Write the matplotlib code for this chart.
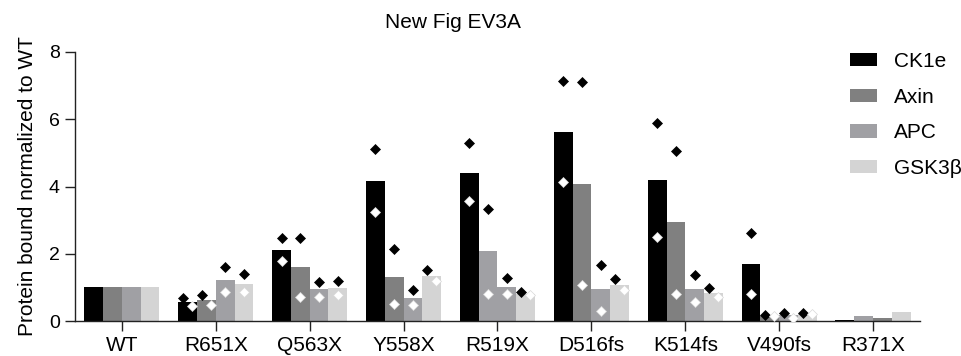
import numpy as np
import matplotlib
matplotlib.use("Agg")
import matplotlib.pyplot as plt

plt.rcParams['font.family'] = ['Liberation Sans', 'DejaVu Sans']

groups = ["WT", "R651X", "Q563X", "Y558X", "R519X", "D516fs", "K514fs", "V490fs", "R371X"]
series = ["CK1e", "Axin", "APC", "GSK3\u03b2"]

# bar heights (means)
ck1e_mean = [1.0, 0.56, 2.11, 4.16, 4.40, 5.62, 4.19, 1.69, 0.03]
axin_mean = [1.0, 0.62, 1.60, 1.31, 2.07, 4.07, 2.93, 0.16, 0.16]
apc_mean = [1.0, 1.23, 0.94, 0.69, 1.02, 0.96, 0.96, 0.17, 0.09]
gsk_mean = [1.0, 1.11, 0.98, 1.34, 0.80, 1.07, 0.83, 0.21, 0.26]

nan = np.nan
# replicate 1 (black diamonds) and replicate 2 (white diamonds)
ck1e_rep1 = [nan, 0.675, 2.46, 5.11, 5.28, 7.15, 5.89, 2.63, nan]
ck1e_rep2 = [nan, 0.45, 1.79, 3.24, 3.56, 4.13, 2.50, 0.79, nan]
axin_rep1 = [nan, 0.77, 2.47, 2.15, 3.33, 7.11, 5.07, 0.18, nan]
axin_rep2 = [nan, 0.48, 0.72, 0.51, 0.80, 1.06, 0.79, 0.15, nan]
apc_rep1 = [nan, 1.60, 1.15, 0.91, 1.27, 1.66, 1.37, 0.25, nan]
apc_rep2 = [nan, 0.87, 0.72, 0.49, 0.80, 0.31, 0.56, 0.10, nan]
gsk_rep1 = [nan, 1.39, 1.20, 1.52, 0.87, 1.25, 0.97, 0.25, nan]
gsk_rep2 = [nan, 0.85, 0.76, 1.20, 0.77, 0.93, 0.72, 0.20, nan]

means = [ck1e_mean, axin_mean, apc_mean, gsk_mean]
reps1 = [ck1e_rep1, axin_rep1, apc_rep1, gsk_rep1]
reps2 = [ck1e_rep2, axin_rep2, apc_rep2, gsk_rep2]

colors = ["#000000", "#808080", "#a0a0a4", "#d4d4d4"]
# the original figure colours a few bars differently
color_override = {(4, 1): "#a0a0a4", (8, 1): "#a0a0a4", (8, 2): "#808080"}

fig = plt.figure(figsize=(9.62, 3.56), dpi=100)
ax = fig.add_axes([75 / 962, 35 / 356, 845 / 962, 269 / 356])

x = np.arange(len(groups))
w = 0.2
for j, name in enumerate(series):
    xs = x + (j - 1.5) * w
    cols = [color_override.get((i, j), colors[j]) for i in range(len(groups))]
    ax.bar(xs, means[j], width=w, color=cols, edgecolor="none", zorder=2, label=name)
    r1 = np.array(reps1[j], dtype=float)
    r2 = np.array(reps2[j], dtype=float)
    # nudge overlapping replicate markers sideways, like the original
    close = np.abs(r1 - r2) < 0.36
    dx = np.where(close, 0.046, 0.0)
    ax.plot(xs - dx, r1, ls="none", marker="D", ms=4.8, mfc="black", mec="black",
            mew=0.5, zorder=3)
    ax.plot(xs + dx, r2, ls="none", marker="D", ms=4.8, mfc="white", mec="#d8d8d8",
            mew=0.5, zorder=3)

ax.set_xlim(-0.5, 8.5)
ax.set_ylim(0, 8)
ax.set_yticks([0, 2, 4, 6, 8])
ax.set_xticks(x)
ax.set_xticklabels(groups, fontsize=15)
ax.tick_params(axis="y", labelsize=14, length=7, width=1.0, pad=4, color="#222222")
ax.tick_params(axis="x", length=7, width=1.0, pad=4, color="#222222")
for s in ["top", "right"]:
    ax.spines[s].set_visible(False)
for s in ["left", "bottom"]:
    ax.spines[s].set_linewidth(1.0)
    ax.spines[s].set_color("#222222")

ax.set_ylabel("Protein bound normalized to WT", fontsize=15)
ax.yaxis.set_label_coords(-0.045, 0.5)

fig.text(453 / 962, 1 - 22.7 / 356, "New Fig EV3A", fontsize=15, ha="center", va="center")

ax.legend(loc="upper left", bbox_to_anchor=(850 / 962, 1 - 52 / 356),
          bbox_transform=fig.transFigure, frameon=False, fontsize=15,
          handlelength=1.3, handleheight=0.63, handletextpad=0.8, labelspacing=0.8,
          borderaxespad=0, borderpad=0)

plt.savefig("out.png", dpi=100)
